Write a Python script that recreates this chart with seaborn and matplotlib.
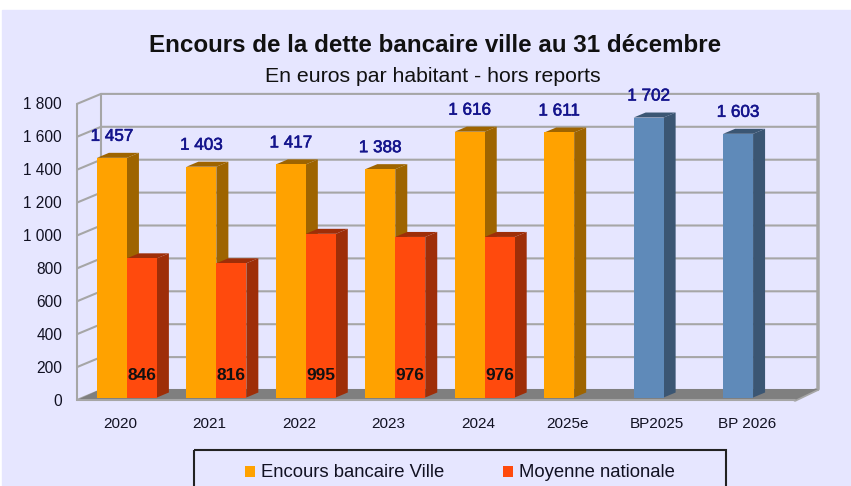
import matplotlib
matplotlib.use('Agg')
import matplotlib.pyplot as plt
import matplotlib.patheffects as pe
from matplotlib.patches import Polygon, Rectangle
from matplotlib.transforms import Affine2D
import pandas as pd
import seaborn as sns

categories = ['2020', '2021', '2022', '2023', '2024', '2025e', 'BP2025', 'BP 2026']
encours_ville = [1457, 1403, 1417, 1388, 1616, 1611, 1702, 1603]
moyenne_nationale = [846, 816, 995, 976, 976, None, None, None]
ticks = list(range(0, 1801, 200))
tick_labels = ['0', '200', '400', '600', '800', '1 000', '1 200', '1 400', '1 600', '1 800']

W, H = 851, 486
BG = '#e6e6ff'
ORANGE = '#ffa200'
RED = '#ff4a0d'
BLUE = '#5f8ab9'
GRID = '#a6a6a6'
# profondeur de la 3D en pixels
DX, DY = 24, 10
BAR_DX, BAR_DY = 12, 5


def darker(color, f=0.62):
    r, g, b = matplotlib.colors.to_rgb(color)
    return (r * f, g * f, b * f)


df = pd.DataFrame({'annee': categories * 2,
                   'valeur': encours_ville + moyenne_nationale,
                   'serie': ['Encours bancaire Ville'] * 8 + ['Moyenne nationale'] * 8})

sns.set_theme(style='white')
plt.rcParams['font.family'] = ['Liberation Sans', 'DejaVu Sans']

fig = plt.figure(figsize=(W / 100, H / 100), dpi=100, facecolor='white')
fig.patches.append(Rectangle((2 / W, 0), 1, 1 - 10 / H, transform=fig.transFigure, color=BG, zorder=-5))

# axes : de x=77 a x=818, y=400 a y=94
ax = fig.add_axes([77 / W, (H - 400) / H, 741 / W, 306 / H])
ax.patch.set_alpha(0)
for s in ax.spines.values():
    s.set_visible(False)

sns.barplot(data=df, x='annee', y='valeur', hue='serie', hue_order=['Encours bancaire Ville', 'Moyenne nationale'],
            palette=[ORANGE, RED], width=0.67, dodge=True, legend=False, ax=ax, zorder=5, saturation=1, errorbar=None)

PX_CAT = 89.45
PX_UNIT = 0.1645
ax.set_xlim(-0.5 - 5.2 / PX_CAT, -0.5 - 5.2 / PX_CAT + 741 / PX_CAT)
ax.set_ylim(-2.5 / PX_UNIT, 303.5 / PX_UNIT)
ax.set_xlabel('')
ax.set_ylabel('')
ax.tick_params(length=0)
ax.set_yticks([])
ax.set_xticks([])
fig.canvas.draw()

# repere en pixels image (y vers le bas)
px = Affine2D().scale(1, -1).translate(0, H)


def y_front(v):
    return 400 - v * PX_UNIT


# murs et grille
for v, lab in zip(ticks, tick_labels):
    y = y_front(v)
    fig.add_artist(plt.Line2D([77, 77 + DX, 818], [y, y - DY, y - DY], color=GRID, lw=1.5, transform=px, zorder=1))
    fig.text(62 / W, (H - y - 1) / H, lab, ha='right', va='center', fontsize=11.2, color='#111122')
fig.add_artist(plt.Line2D([77, 77], [y_front(0), y_front(1800)], color=GRID, lw=1.5, transform=px, zorder=1))
fig.add_artist(plt.Line2D([101, 101], [y_front(0) - DY, y_front(1800) - DY], color=GRID, lw=1.5, transform=px, zorder=1))
fig.add_artist(plt.Line2D([818, 818, 795], [y_front(1800) - DY, y_front(0) - DY - 1, y_front(0)], color=GRID, lw=2.5,
                          transform=px, zorder=1))
fig.add_artist(Polygon([(77, 400), (795, 400), (818, 389), (101, 389)], closed=True, facecolor='#7f7f7f',
                       edgecolor='none', transform=px, zorder=2))
fig.add_artist(plt.Line2D([77, 795], [400, 400], color=GRID, lw=1.5, transform=px, zorder=2))
ax.set_zorder(5)

# faces 3D calculees depuis les barres de seaborn
bars = [p for p in ax.patches if p.get_height() and p.get_height() > 0]
for i, p in enumerate(bars):
    col = p.get_facecolor()
    if i in (6, 7):
        col = matplotlib.colors.to_rgba(BLUE)
        p.set_facecolor(col)
    p.set_edgecolor('none')
    (x0, y0), (x1, y1) = p.get_window_extent().get_points()
    side = Polygon([(x1, y0), (x1 + BAR_DX, y0 + BAR_DY), (x1 + BAR_DX, y1 + BAR_DY), (x1, y1)], closed=True,
                   facecolor=darker(col), edgecolor='none', transform=None, zorder=4)
    top = Polygon([(x0, y1), (x0 + BAR_DX, y1 + BAR_DY), (x1 + BAR_DX, y1 + BAR_DY), (x1, y1)], closed=True,
                  facecolor=darker(col), edgecolor='none', transform=None, zorder=4)
    ax.add_artist(side)
    ax.add_artist(top)
    if i < 8:
        fig.text((x0 + 15) / W, (y1 + 17) / H, f'{encours_ville[i]:,}'.replace(',', ' '), ha='center', va='baseline',
                 fontsize=12.3, color='#14148c', zorder=8,
                 path_effects=[pe.withStroke(linewidth=0.4, foreground='#14148c')])
    else:
        fig.text((x0 + 15) / W, (H - 380) / H, f'{int(p.get_height())}', ha='center', va='baseline',
                 fontsize=12.5, color='#111111', zorder=8, fontweight='bold')

# etiquettes des categories
for i, lab in enumerate(categories):
    fig.text((120 + 89.55 * i) / W, (H - 424) / H, lab, ha='center', va='center', fontsize=11, color='#111122')

fig.text(435 / W, (H - 46) / H, 'Encours de la dette bancaire ville au 31 décembre', ha='center', va='center',
         fontsize=17.4, fontweight='bold', color='#111111')
fig.text(433 / W, (H - 77) / H, 'En euros par habitant - hors reports', ha='center', va='center',
         fontsize=15.3, color='#111111')

# legende (coupee par le bas de l'image, comme l'original)
fig.add_artist(Rectangle((194, 450), 532, 60, transform=px, facecolor='none', edgecolor='#222222', lw=1.5, zorder=6))
fig.add_artist(Rectangle((245, 466), 10, 11, transform=px, facecolor=ORANGE, edgecolor='none', zorder=6))
fig.add_artist(Rectangle((503, 466), 10, 11, transform=px, facecolor=RED, edgecolor='none', zorder=6))
fig.text(261 / W, (H - 472) / H, 'Encours bancaire Ville', ha='left', va='center', fontsize=13.35, color='#111122')
fig.text(519 / W, (H - 472) / H, 'Moyenne nationale', ha='left', va='center', fontsize=13.35, color='#111122')

fig.savefig('out.png', dpi=100, facecolor='white')
